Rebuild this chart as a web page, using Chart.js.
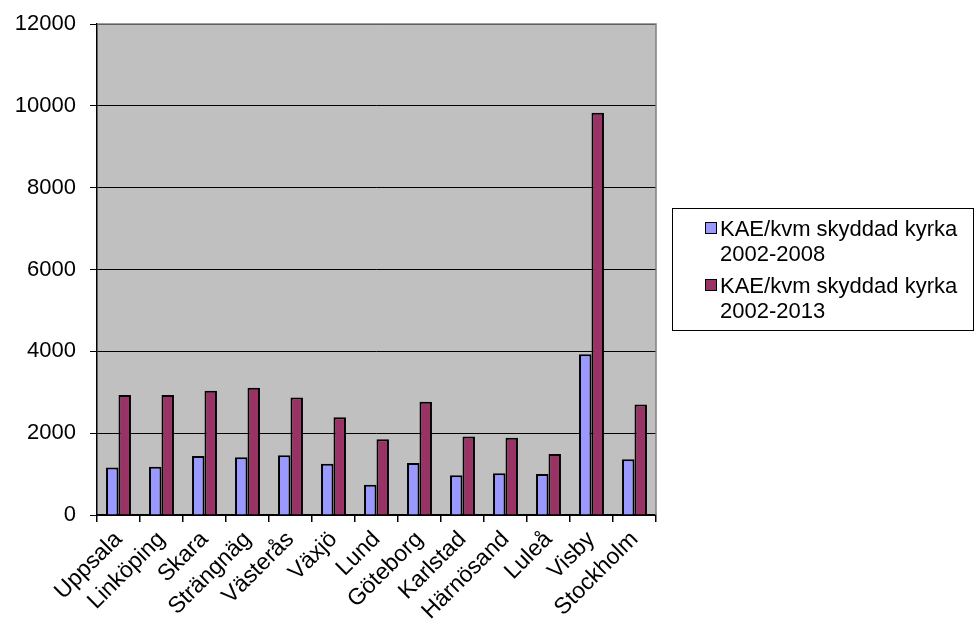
<!DOCTYPE html>
<html>
<head>
<meta charset="utf-8">
<script src="https://cdn.jsdelivr.net/npm/chart.js@4/dist/chart.umd.min.js"></script>
<style>
    html, body { margin: 0; padding: 0; background: #fff; }
    #wrap { position: relative; width: 979px; height: 625px; }
    #legend {
        position: absolute; left: 672px; top: 208px; width: 302px; height: 123px;
        border: 1px solid #000; box-sizing: border-box;
        font-family: 'Liberation Sans', Arial, sans-serif; font-size: 22px; color: #000;
        padding: 7px 0 0 47px; line-height: 25px;
    }
    .item { position: relative; margin-bottom: 7px; }
    .sw { position: absolute; left: -15px; top: 6px; width: 10px; height: 10px; border: 1.5px solid #000; }
</style>
</head>
<body>
<div id="wrap">
    <canvas id="c" width="979" height="625"></canvas>
    <div id="legend"></div>
</div>
<script>
const categories = ['Uppsala', 'Linköping', 'Skara', 'Strängnäg', 'Västerås', 'Växjö', 'Lund',
    'Göteborg', 'Karlstad', 'Härnösand', 'Luleå', 'Visby', 'Stockholm'];
const series1Label = 'KAE/kvm skyddad kyrka 2002-2008';
const series2Label = 'KAE/kvm skyddad kyrka 2002-2013';
const series1 = [1160, 1180, 1440, 1410, 1460, 1250, 740, 1270, 970, 1020, 1000, 3930, 1360];
const series2 = [2930, 2930, 3035, 3110, 2870, 2390, 1850, 2770, 1920, 1890, 1490, 9830, 2700];
const yTicks = [0, 2000, 4000, 6000, 8000, 10000, 12000];

const colors = ['#9999ff', '#993366'];

// gray plot area and its frame
const plotBg = {
    id: 'plotBg',
    beforeDraw(chart) {
        const { ctx, chartArea: a } = chart;
        ctx.save();
        ctx.fillStyle = '#c0c0c0';
        ctx.fillRect(a.left, a.top, a.right - a.left, a.bottom - a.top);
        ctx.restore();
    },
    afterDraw(chart) {
        const { ctx, chartArea: a } = chart;
        ctx.save();
        ctx.strokeStyle = '#808080';
        ctx.lineWidth = 1.5;
        ctx.beginPath();
        ctx.moveTo(a.left, a.top);
        ctx.lineTo(a.right, a.top);
        ctx.lineTo(a.right, a.bottom);
        ctx.stroke();
        ctx.restore();
    }
};

const font = { family: "'Liberation Sans', Arial, sans-serif" };

new Chart(document.getElementById('c').getContext('2d'), {
    type: 'bar',
    data: {
        labels: categories,
        datasets: [
            { label: series1Label, data: series1, backgroundColor: colors[0], borderColor: '#000', borderWidth: 2 },
            { label: series2Label, data: series2, backgroundColor: colors[1], borderColor: '#000', borderWidth: 2 },
        ]
    },
    options: {
        responsive: false,
        animation: false,
        layout: { padding: { top: 24, right: 323, left: 0, bottom: 0 } },
        datasets: { bar: { categoryPercentage: 0.58, barPercentage: 1 } },
        scales: {
            x: {
                offset: true,
                grid: { offset: true, drawOnChartArea: false, drawTicks: true, tickLength: 7, color: '#000', lineWidth: 1.5 },
                border: { color: '#000', width: 1.5 },
                ticks: {
                    color: '#000', maxRotation: 45, minRotation: 45, autoSkip: false, padding: 4,
                    font: { ...font, size: 23 }
                },
                afterFit: (s) => { s.height = 110; s.paddingLeft = 0; s.paddingRight = 0; }
            },
            y: {
                min: 0, max: 12000,
                afterBuildTicks: (s) => { s.ticks = yTicks.map(v => ({ value: v })); },
                grid: { color: '#000', lineWidth: 1, tickLength: 7 },
                border: { color: '#000', width: 1.5 },
                ticks: { color: '#000', padding: 14, font: { ...font, size: 22 }, callback: (v) => String(v) },
                afterFit: (s) => { s.width = 97; s.paddingTop = 0; s.paddingBottom = 0; }
            }
        },
        plugins: {
            legend: { display: false },
            tooltip: { enabled: false }
        }
    },
    plugins: [plotBg]
});

const legend = document.getElementById('legend');
[series1Label, series2Label].forEach((lbl, i) => {
    const parts = lbl.split(' ');
    const year = parts.pop();
    const item = document.createElement('div');
    item.className = 'item';
    item.innerHTML = '<span class="sw" style="background:' + colors[i] + '"></span>' + parts.join(' ') + '<br>' + year;
    legend.appendChild(item);
});
</script>
</body>
</html>
